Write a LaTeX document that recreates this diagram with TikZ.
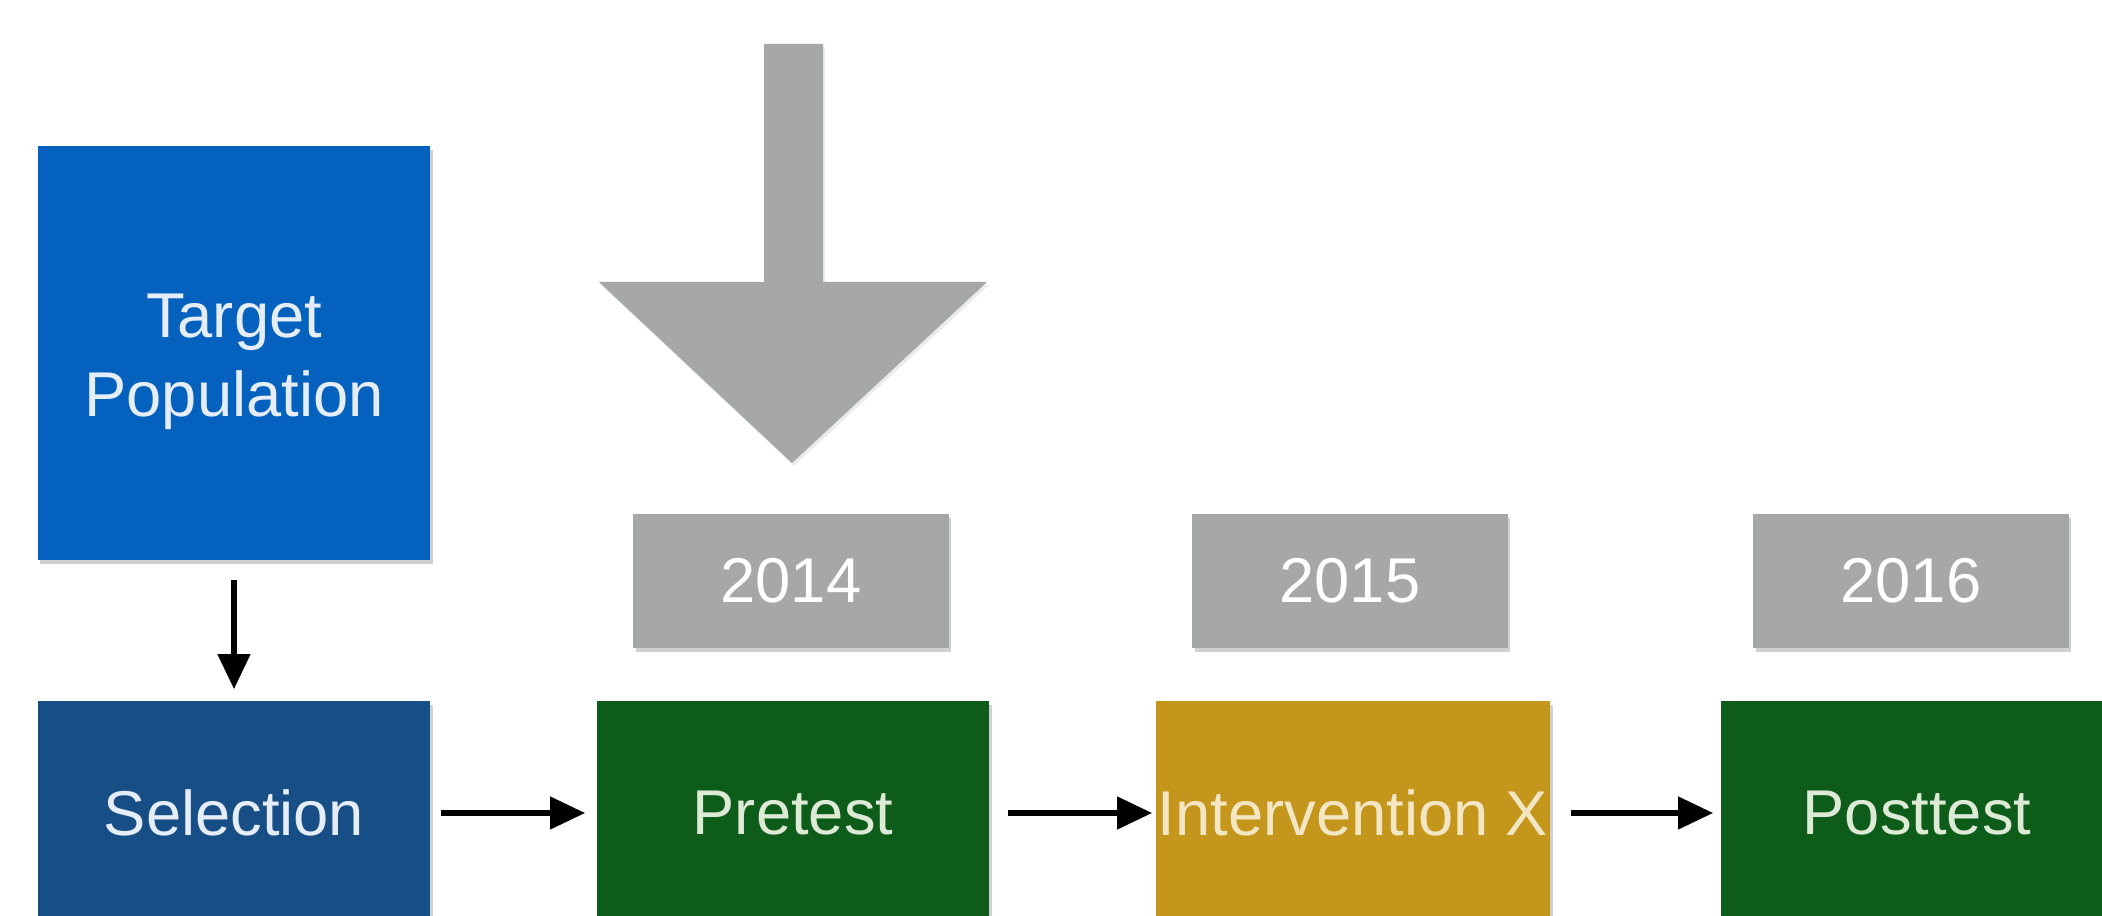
\documentclass[tikz,border=0pt]{standalone}
\usepackage{fontspec}
\setmainfont{Liberation Sans}
\usetikzlibrary{arrows.meta,shadows}
\definecolor{tblue}{HTML}{0462BE}
\definecolor{sblue}{HTML}{174E86}
\definecolor{dgreen}{HTML}{0D5C19}
\definecolor{gold}{HTML}{C4961B}
\definecolor{lgray}{HTML}{A5A8A7}
\definecolor{gtext}{HTML}{DDEBD6}
\definecolor{btext}{HTML}{E4EDF8}
\definecolor{otext}{HTML}{F3E6C3}
\tikzset{
  boxfont/.style={font=\fontsize{18}{22.5}\selectfont},
  box/.style={rectangle, inner sep=0pt, boxfont, align=center,
    drop shadow={shadow xshift=0.025cm, shadow yshift=-0.04cm, opacity=0.3, fill=black!60}},
  yearbox/.style={box, fill=lgray, text=white, minimum width=3.15cm, minimum height=1.33cm},
  bigbox/.style={box, minimum width=3.92cm, minimum height=2.24cm},
  arr/.style={draw=black, line width=1.7pt, -{Triangle[length=10pt,width=9pt]}}
}
\begin{document}
\begin{tikzpicture}[x=0.01cm,y=-0.01cm]
\useasboundingbox (0,0) rectangle (2102,916);
\clip (0,0) rectangle (2102,916);
\fill[white] (0,0) rectangle (2102,916);
% big gray arrow
\fill[lgray, drop shadow={shadow xshift=0.02cm, shadow yshift=-0.03cm, opacity=0.15}]
  (764,44) -- (823,44) -- (823,282) -- (987,282) -- (792,463) -- (599,282) -- (764,282) -- cycle;
% boxes
\node[box, fill=tblue, minimum width=3.925cm, minimum height=4.14cm,
  label={[boxfont, text=btext, align=center, yshift=-0.09cm]center:Target\\Population}] (target) at (234,353) {};
\node[bigbox, fill=sblue, text=btext] (sel) at (234,813) {Selection};
\node[bigbox, fill=dgreen, text=gtext] (pre) at (793,813) {Pretest};
\node[bigbox, fill=gold, text=otext, minimum width=3.94cm] (int) at (1353,813) {Intervention X};
\node[bigbox, fill=dgreen, text=gtext] (post) at (1917,813) {Posttest};
% years
\node[yearbox] (y14) at (791,581) {2014};
\node[yearbox] (y15) at (1350,581) {2015};
\node[yearbox] (y16) at (1911,581) {2016};
% connectors
\draw[arr, shorten <=0.19cm, shorten >=0.11cm] (target.south) -- (sel.north);
\draw[arr, shorten <=0.10cm, shorten >=0.11cm] (sel.east) -- (pre.west);
\draw[arr, shorten <=0.18cm, shorten >=0.03cm] (pre.east) -- (int.west);
\draw[arr, shorten <=0.20cm, shorten >=0.07cm] (int.east) -- (post.west);
\end{tikzpicture}
\end{document}
